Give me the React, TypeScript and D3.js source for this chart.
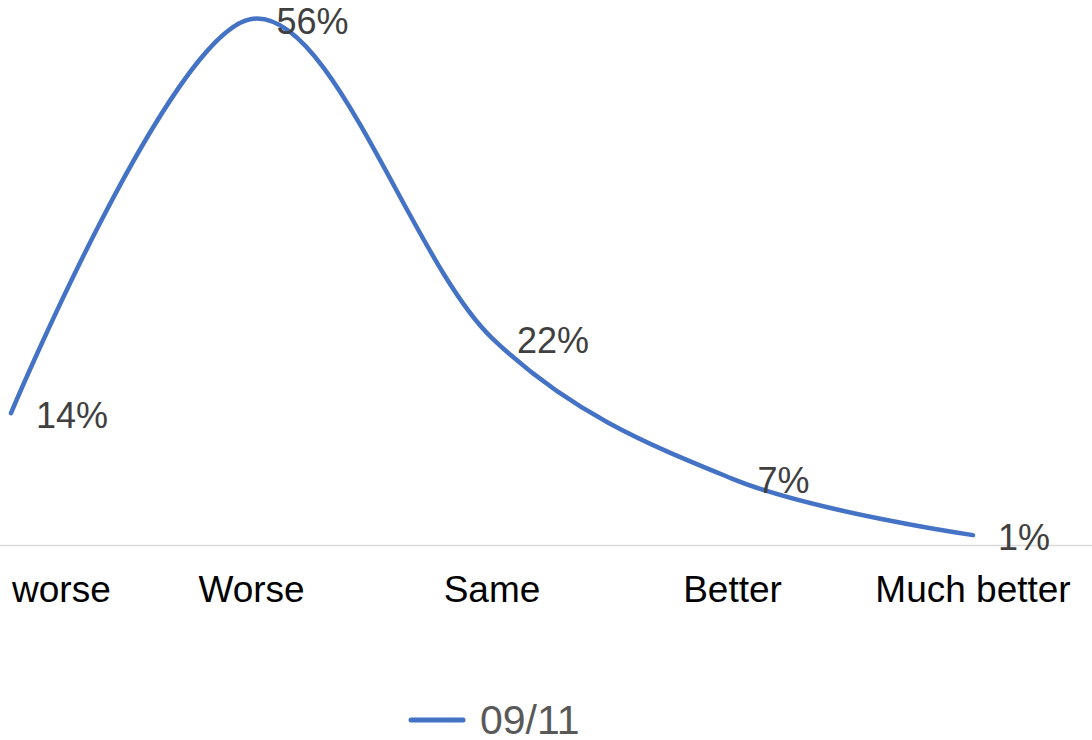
import React from 'react';
import * as d3 from 'd3';

const categories = ['Much worse', 'Worse', 'Same', 'Better', 'Much better'];
const values = [14, 56, 22, 7, 1];
const seriesName = '09/11';

const width = 1092;
const height = 740;
const font = '"Liberation Sans", Arial, sans-serif';

function App() {
  const x = d3.scalePoint<string>()
    .domain(categories)
    .range([11, 973]);
  const y = d3.scaleLinear()
    .domain([0, 56])
    .range([544.5, 19]);

  const line = d3.line<number>()
    .x((d, i) => x(categories[i]) as number)
    .y(d => y(d))
    .curve(d3.curveCardinal.tension(0));

  const baseY = 545.5;

  return (
    <svg width={width} height={height} style={{position: 'absolute', left: 0, top: 0, display: 'block'}}>
      <rect width={width} height={height} fill="#ffffff" />
      <line x1={0} x2={width} y1={baseY} y2={baseY} stroke="#d9d9d9" strokeWidth={1.5} />
      <path d={line(values) || ''} fill="none" stroke="#4472c4" strokeWidth={4.5}
            strokeLinecap="round" strokeLinejoin="round" />
      {values.map((v, i) => (
        <text key={'l' + i} x={(x(categories[i]) as number) + 25} y={y(v) + 14.5}
              fontFamily={font} fontSize={36} fill="#404040">{v + '%'}</text>
      ))}
      {categories.map((c, i) => (
        <text key={'c' + i} x={x(c) as number} y={602} textAnchor="middle"
              fontFamily={font} fontSize={37} fill="#000000">{c}</text>
      ))}
      <g>
        <line x1={411} x2={463} y1={720} y2={720} stroke="#4472c4" strokeWidth={5} strokeLinecap="round" />
        <text x={480} y={734} fontFamily={font} fontSize={41} fill="#595959">{seriesName}</text>
      </g>
    </svg>
  );
}

export default App;
